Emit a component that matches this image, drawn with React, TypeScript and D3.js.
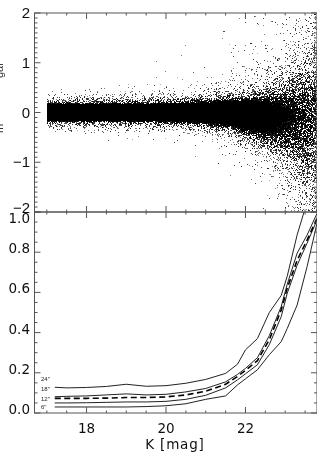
import React from "react";
import * as d3 from "d3";

// --- Lower panel: completeness-style curves
const curveK = [17.2, 17.5, 18, 18.5, 19, 19.5, 20, 20.5, 21, 21.5, 21.8, 22, 22.3, 22.6, 22.9, 23.05, 23.3, 23.55, 23.8];
const curve24 = [0.128, 0.125, 0.127, 0.132, 0.143, 0.133, 0.136, 0.148, 0.167, 0.197, 0.243, 0.314, 0.37, 0.5, 0.585, 0.68, 0.886, 1.05, 1.4];
const curve18 = [0.081, 0.083, 0.085, 0.09, 0.095, 0.09, 0.093, 0.105, 0.122, 0.155, 0.192, 0.222, 0.275, 0.385, 0.53, 0.64, 0.795, 0.885, 0.993];
const curveDash = [0.073, 0.073, 0.073, 0.074, 0.077, 0.077, 0.08, 0.09, 0.108, 0.143, 0.182, 0.212, 0.26, 0.365, 0.513, 0.62, 0.76, 0.86, 0.968];
const curve12 = [0.05, 0.05, 0.051, 0.053, 0.055, 0.055, 0.058, 0.068, 0.088, 0.125, 0.165, 0.195, 0.24, 0.34, 0.48, 0.595, 0.735, 0.845, 0.96];
const curve6 = [0.03, 0.03, 0.03, 0.03, 0.03, 0.032, 0.036, 0.046, 0.068, 0.085, 0.14, 0.17, 0.215, 0.29, 0.355, 0.42, 0.537, 0.728, 0.944];
const curveLabels = ['24"', '18"', '12"', '6"'];
const curveLabelValues = [0.16, 0.11, 0.06, 0.02];

// --- Upper panel: ink coverage of the scatter per (K, delta) cell.
// The ~50k individual points cannot be read, so the cloud is kept as this density table.
const densityDelta = [2, 1.5, 1.2, 0.9, 0.7, 0.5, 0.4, 0.3, 0.2, 0.1, 0, -0.1, -0.2, -0.3, -0.4, -0.5, -0.7, -0.9, -1.2, -1.5, -2];
const densityK = [17, 18, 19, 20, 21, 21.5, 22, 22.5, 23, 23.4, 23.8];
const densityAt17 = [0, 0, 0, 0, 0, 0.002, 0.01, 0.09, 0.32, 1.2, 1.4, 1.2, 0.3, 0.08, 0.01, 0, 0, 0, 0, 0, 0];
const densityAt18 = [0, 0, 0, 0, 0.001, 0.004, 0.025, 0.12, 0.35, 1.2, 1.4, 1.2, 0.33, 0.1, 0.015, 0.002, 0, 0, 0, 0, 0];
const densityAt19 = [0, 0, 0, 0.001, 0.002, 0.008, 0.025, 0.13, 0.35, 1.2, 1.4, 1.2, 0.35, 0.11, 0.015, 0.003, 0, 0, 0, 0, 0];
const densityAt20 = [0, 0, 0.001, 0.002, 0.003, 0.012, 0.04, 0.15, 0.4, 1.2, 1.4, 1.2, 0.4, 0.12, 0.02, 0.004, 0.001, 0, 0, 0, 0];
const densityAt21 = [0, 0.001, 0.002, 0.004, 0.008, 0.03, 0.08, 0.2, 0.55, 1.2, 1.4, 1.2, 0.6, 0.22, 0.06, 0.015, 0.003, 0.001, 0, 0, 0];
const densityAt215 = [0.001, 0.002, 0.004, 0.01, 0.025, 0.06, 0.13, 0.3, 0.7, 1.2, 1.4, 1.3, 0.75, 0.38, 0.15, 0.05, 0.01, 0.002, 0.001, 0, 0];
const densityAt22 = [0.002, 0.004, 0.01, 0.025, 0.05, 0.11, 0.2, 0.38, 0.75, 1.2, 1.3, 1.2, 1, 0.7, 0.45, 0.22, 0.06, 0.018, 0.005, 0.001, 0];
const densityAt225 = [0.004, 0.01, 0.025, 0.06, 0.11, 0.2, 0.3, 0.42, 0.6, 0.8, 0.9, 0.9, 0.85, 0.72, 0.6, 0.45, 0.22, 0.08, 0.03, 0.01, 0.002];
const densityAt23 = [0.01, 0.025, 0.05, 0.1, 0.17, 0.28, 0.35, 0.42, 0.5, 0.58, 0.65, 0.65, 0.6, 0.56, 0.52, 0.5, 0.35, 0.2, 0.1, 0.05, 0.02];
const densityAt234 = [0.03, 0.05, 0.1, 0.16, 0.24, 0.32, 0.38, 0.42, 0.46, 0.48, 0.5, 0.5, 0.48, 0.46, 0.46, 0.44, 0.38, 0.3, 0.2, 0.12, 0.07];
const densityAt238 = [0.08, 0.12, 0.16, 0.23, 0.3, 0.34, 0.38, 0.4, 0.42, 0.42, 0.42, 0.42, 0.42, 0.42, 0.42, 0.4, 0.36, 0.32, 0.25, 0.18, 0.1];
const densityColumns = [densityAt17, densityAt18, densityAt19, densityAt20, densityAt21, densityAt215, densityAt22, densityAt225, densityAt23, densityAt234, densityAt238];

const xTicksMajor = [18, 20, 22];
const topYLabels = [2, 1, 0, -1, -2];
const bottomYLabels = [0, 0.2, 0.4, 0.6, 0.8, 1.0];

const W = 326, H = 465;
const L = 34.5, R = 317, T = 13, M = 212, B = 413;
const x = d3.scaleLinear().domain([16.69, 23.8]).range([L, R]);
const yTop = d3.scaleLinear().domain([-2, 2]).range([M, T]);
const yBot = d3.scaleLinear().domain([0, 1]).range([B, M]);

function lookup(k: number, d: number) {
  const ki = d3.bisectLeft(densityK, k);
  const k1 = Math.max(1, Math.min(densityK.length - 1, ki));
  const tk = (k - densityK[k1 - 1]) / (densityK[k1] - densityK[k1 - 1]);
  let r1 = 1;
  while (r1 < densityDelta.length - 1 && densityDelta[r1] > d) r1++;
  const tr = (densityDelta[r1 - 1] - d) / (densityDelta[r1 - 1] - densityDelta[r1]);
  const c0 = densityColumns[k1 - 1], c1 = densityColumns[k1];
  const a = c0[r1 - 1] + (c0[r1] - c0[r1 - 1]) * tr;
  const b = c1[r1 - 1] + (c1[r1] - c1[r1 - 1]) * tr;
  return a + (b - a) * tk;
}

// Fixed dither mask (no state, same every render): scrambles pixel coordinates to [0,1).
function mask(px: number, py: number, salt: number) {
  let h = Math.imul(px + 1000 * salt, 73856093) ^ Math.imul(py + 7, 19349663);
  h = Math.imul(h ^ (h >>> 13), 1274126177);
  h = Math.imul(h ^ (h >>> 16), 2246822519);
  return ((h ^ (h >>> 15)) >>> 0) / 4294967296;
}

// Halftone the density table to single grey pixels, grouped in a few ink levels.
const inkLevels = [0.3, 0.5, 0.7, 0.85, 1];
function halftonePaths() {
  const paths = inkLevels.map(() => d3.path());
  for (let px = Math.round(x(17)); px < R; px++) {
    for (let py = T + 1; py < M; py++) {
      const v = lookup(x.invert(px + 0.5), yTop.invert(py + 0.5));
      if (v <= 0 || mask(px, py, 0) >= 1.7 * v) continue;
      const tone = Math.min(1, v + 0.15 + 0.5 * mask(px, py, 1));
      const level = Math.min(inkLevels.length - 1, Math.floor(tone * inkLevels.length));
      paths[level].rect(px, py, 1, 1);
    }
  }
  return paths.map(p => p.toString());
}

const seq = (a: number, b: number, s: number) => d3.range(Math.round((b - a) / s) + 1).map(i => a + i * s);

export default function App() {
  const line = (vals: number[]) =>
    d3.line<number>().x((_, i) => x(curveK[i])).y(v => yBot(v))(vals) as string;
  const axisColor = "#555";
  const xMinor = seq(17, 23.5, 0.5);
  const tickLines: React.ReactNode[] = [];
  xMinor.forEach(k => {
    const major = xTicksMajor.includes(k);
    const len = major ? 6 : 2.5;
    tickLines.push(<line key={"t" + k} x1={x(k)} x2={x(k)} y1={T} y2={T + len} />);
    tickLines.push(<line key={"m" + k} x1={x(k)} x2={x(k)} y1={M - len} y2={M + len} />);
    tickLines.push(<line key={"b" + k} x1={x(k)} x2={x(k)} y1={B} y2={B - len} />);
  });
  seq(-2, 2, 0.1).forEach(v => {
    const major = Math.abs(v - Math.round(v)) < 1e-6;
    const len = major ? 6 : 3;
    tickLines.push(<line key={"l" + v} x1={L} x2={L + len} y1={yTop(v)} y2={yTop(v)} />);
    tickLines.push(<line key={"r" + v} x1={R} x2={R - len} y1={yTop(v)} y2={yTop(v)} />);
  });
  seq(0, 1, 0.05).forEach(v => {
    const major = Math.abs(v * 5 - Math.round(v * 5)) < 1e-6;
    const len = major ? 6 : 3;
    tickLines.push(<line key={"bl" + v} x1={L} x2={L + len} y1={yBot(v)} y2={yBot(v)} />);
    tickLines.push(<line key={"br" + v} x1={R} x2={R - len} y1={yBot(v)} y2={yBot(v)} />);
  });
  return (
    <svg width={W} height={H} style={{ position: "absolute", left: 0, top: 0, background: "#fff" }}>
      <defs>
        <filter id="soft" x="0" y="0" width="100%" height="100%">
          <feGaussianBlur stdDeviation="0.4" />
        </filter>
        <clipPath id="bot"><rect x={L} y={M} width={R - L} height={B - M} /></clipPath>
      </defs>
      <g filter="url(#soft)">
        {halftonePaths().map((d, i) => (
          <path key={i} d={d} fill="#000" fillOpacity={inkLevels[i]} />
        ))}
        <g clipPath="url(#bot)" fill="none" stroke="#222" strokeWidth={1}>
          <path d={line(curve24)} />
          <path d={line(curve18)} />
          <path d={line(curve12)} />
          <path d={line(curve6)} />
          <path d={line(curveDash)} stroke="#000" strokeWidth={1.6} strokeDasharray="6 3.5" />
        </g>
        <g stroke={axisColor} strokeWidth={1} fill="none">
          <rect x={L} y={T} width={R - L} height={M - T} />
          <rect x={L} y={M} width={R - L} height={B - M} />
          {tickLines}
        </g>
        <g fontFamily="'Liberation Sans'" fontSize={15} fill="#111" textAnchor="end">
          {topYLabels.map(v => (
            <text key={v} x={30} y={v === -2 ? 213 : yTop(v) + 5}>{v < 0 ? "−" + Math.abs(v) : v}</text>
          ))}
        </g>
        <g fontFamily="'DejaVu Sans'" fontSize={13.5} fill="#111" textAnchor="end">
          {bottomYLabels.map(v => (
            <text key={v} x={30} y={yBot(v) + (v === 1 ? 11 : 1)}>{v.toFixed(1)}</text>
          ))}
          {xTicksMajor.map(k => (
            <text key={k} x={x(k)} y={433} textAnchor="middle">{k}</text>
          ))}
          <text x={175} y={449} textAnchor="middle" letterSpacing={0.8}>K [mag]</text>
        </g>
        <g fontFamily="'Liberation Sans'" fontSize={6} fill="#222">
          {curveLabels.map((c, i) => (
            <text key={c} x={41} y={yBot(curveLabelValues[i])}>{c}</text>
          ))}
        </g>
        <g fontFamily="'Liberation Sans'" fontSize={11} fill="#333">
          <text transform="translate(3,78) rotate(-90)">gal</text>
          <text transform="translate(3,133) rotate(-90)">m</text>
        </g>
      </g>
    </svg>
  );
}
